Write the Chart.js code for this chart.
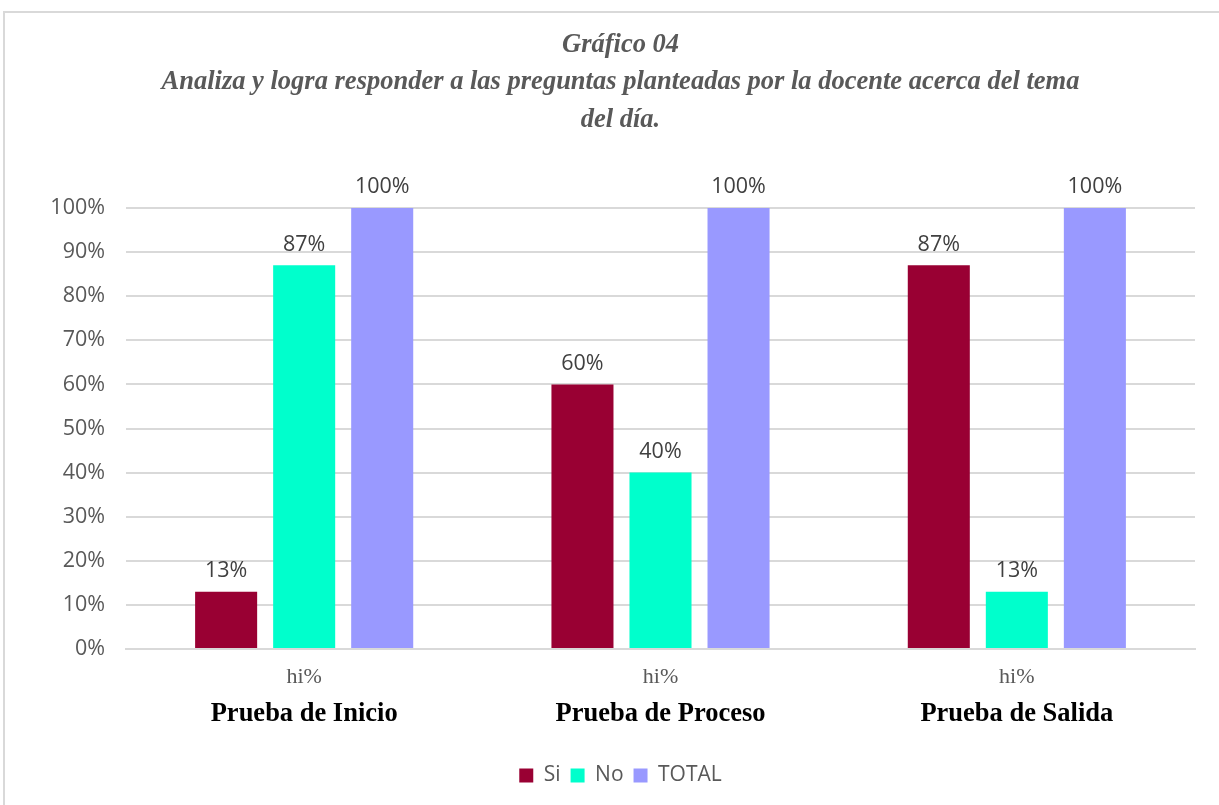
<!DOCTYPE html>
<html lang="es">
<head>
<meta charset="utf-8">
<title>Gráfico 04</title>
<script src="https://cdn.jsdelivr.net/npm/chart.js@4.4.1/dist/chart.umd.min.js"></script>
<style>
  html, body { margin: 0; padding: 0; background: #fff; overflow: hidden; }
  #wrap { position: relative; width: 1219px; height: 805px; }
  #frame {
    position: absolute; left: 3px; top: 11px;
    width: 1300px; height: 900px;
    border: 2px solid #d9d9d9; box-sizing: border-box;
  }
  #chart { position: absolute; left: 0; top: 0; }
</style>
</head>
<body>
<div id="wrap">
  <div id="frame"></div>
  <canvas id="chart" width="1219" height="805"></canvas>
</div>
<script>
// Categorías (dos niveles en el eje X) y series
const subLabels = ['hi%', 'hi%', 'hi%'];
const groups = ['Prueba de Inicio', 'Prueba de Proceso', 'Prueba de Salida'];
const si = [13, 60, 87];
const no = [87, 40, 13];
const total = [100, 100, 100];
const yTicks = [0, 10, 20, 30, 40, 50, 60, 70, 80, 90, 100];

const titleLines = [
    'Gráfico 04',
    'Analiza y logra responder a las preguntas planteadas por la docente acerca del tema',
    'del día.'
];

const sansFont = '"Open Sans", sans-serif';
const serifFont = '"Liberation Serif", serif';

// Etiquetas de valor encima de cada barra
const valueLabels = {
    id: 'valueLabels',
    afterDatasetsDraw(chart) {
        const ctx = chart.ctx;
        ctx.save();
        ctx.font = '21.5px ' + sansFont;
        ctx.fillStyle = '#404040';
        ctx.textAlign = 'center';
        ctx.textBaseline = 'bottom';
        chart.data.datasets.forEach((ds, i) => {
            const meta = chart.getDatasetMeta(i);
            meta.data.forEach((bar, j) => {
                ctx.fillText(ds.data[j] + '%', bar.x, bar.y - 10);
            });
        });
        ctx.restore();
    }
};

new Chart(document.getElementById('chart'), {
    type: 'bar',
    data: {
        labels: subLabels,
        datasets: [
            { label: 'Si', data: si, backgroundColor: '#990033' },
            { label: 'No', data: no, backgroundColor: '#00FFCC' },
            { label: 'TOTAL', data: total, backgroundColor: '#9999FF' }
        ]
    },
    options: {
        responsive: false,
        animation: false,
        categoryPercentage: 0.657,
        barPercentage: 0.795,
        layout: { padding: { left: 46, right: 24, top: 26, bottom: 9 } },
        plugins: {
            title: {
                display: true,
                text: titleLines,
                color: '#595959',
                font: { family: serifFont, size: 26.5, style: 'italic', weight: 'bold', lineHeight: '37.5px' },
                padding: { top: 0, bottom: 69.5 }
            },
            legend: {
                position: 'bottom',
                labels: {
                    boxWidth: 14,
                    boxHeight: 14,
                    color: '#595959',
                    font: { family: sansFont, size: 21 },
                    padding: 10
                }
            },
            tooltip: { enabled: false }
        },
        scales: {
            x: {
                grid: { display: false, drawTicks: false },
                border: { display: true, color: '#d9d9d9', width: 2 },
                afterFit(axis) { axis.height = 41; },
                ticks: {
                    color: '#595959',
                    font: { family: serifFont, size: 22 },
                    padding: 15
                }
            },
            x2: {
                type: 'category',
                labels: groups,
                position: 'bottom',
                grid: { display: false, drawTicks: false },
                border: { display: false },
                afterFit(axis) { axis.height = 65; },
                ticks: {
                    color: '#000000',
                    font: { family: serifFont, size: 26.5, weight: 'bold' },
                    padding: 8
                }
            },
            y: {
                min: 0,
                max: 100,
                afterBuildTicks(axis) {
                    axis.ticks = yTicks.map(v => ({ value: v }));
                },
                afterFit(axis) { axis.width = 80; },
                grid: { color: '#d9d9d9', lineWidth: 2, drawTicks: false },
                border: { display: false },
                ticks: {
                    color: '#595959',
                    font: { family: sansFont, size: 21.5 },
                    padding: 21,
                    callback: v => v + '%'
                }
            }
        }
    },
    plugins: [valueLabels]
});
</script>
</body>
</html>
